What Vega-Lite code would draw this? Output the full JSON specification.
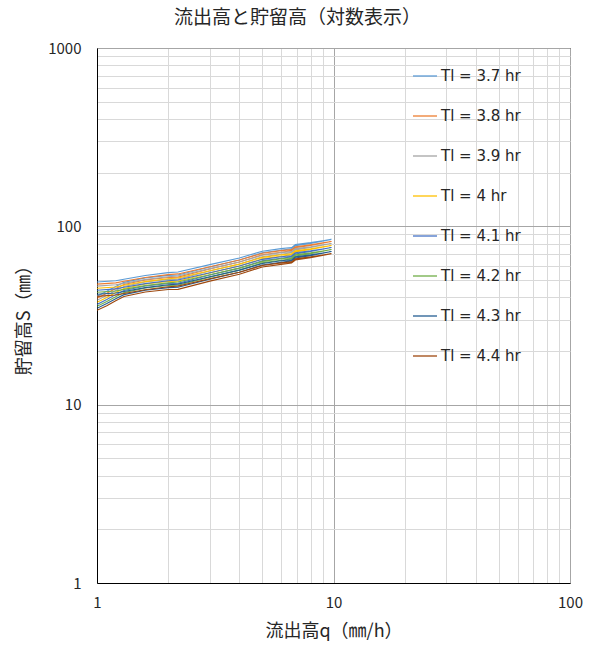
{
  "$schema": "https://vega.github.io/schema/vega-lite/v6.json",
  "width": 473,
  "height": 535,
  "autosize": {"type": "none"},
  "padding": {"left": 97, "top": 48, "right": 28, "bottom": 67},
  "background": "white",
  "config": {
    "view": {"stroke": "#000000", "strokeWidth": 1},
    "font": "Noto Sans CJK JP"
  },
  "title": {
    "text": "流出高と貯留高（対数表示）",
    "fontSize": 19,
    "fontWeight": "normal",
    "color": "#262626",
    "anchor": "middle",
    "dx": -36,
    "offset": 13,
    "font": "Noto Sans CJK JP"
  },
  "data": {
    "values": [
      {"t":"Tl = 3.7 hr","i":0,"q":1,"S":40.6},{"t":"Tl = 3.7 hr","i":1,"q":1.1,"S":43.2},{"t":"Tl = 3.7 hr","i":2,"q":1.2,"S":46.0},{"t":"Tl = 3.7 hr","i":3,"q":1.3,"S":48.5},{"t":"Tl = 3.7 hr","i":4,"q":1.6,"S":51.4},{"t":"Tl = 3.7 hr","i":5,"q":2,"S":53.1},{"t":"Tl = 3.7 hr","i":6,"q":2.2,"S":53.3},{"t":"Tl = 3.7 hr","i":7,"q":3,"S":59.2},{"t":"Tl = 3.7 hr","i":8,"q":4,"S":64.8},{"t":"Tl = 3.7 hr","i":9,"q":5,"S":71.1},{"t":"Tl = 3.7 hr","i":10,"q":6,"S":73.5},{"t":"Tl = 3.7 hr","i":11,"q":6.65,"S":74.9},{"t":"Tl = 3.7 hr","i":12,"q":6.9,"S":77.8},{"t":"Tl = 3.7 hr","i":13,"q":8,"S":80.2},{"t":"Tl = 3.7 hr","i":14,"q":9.8,"S":84.5},{"t":"Tl = 3.7 hr","i":15,"q":9,"S":83.0},{"t":"Tl = 3.7 hr","i":16,"q":8,"S":81.0},{"t":"Tl = 3.7 hr","i":17,"q":6.9,"S":79.0},{"t":"Tl = 3.7 hr","i":18,"q":6.65,"S":76.0},{"t":"Tl = 3.7 hr","i":19,"q":6,"S":75.0},{"t":"Tl = 3.7 hr","i":20,"q":5,"S":72.5},{"t":"Tl = 3.7 hr","i":21,"q":4,"S":66.5},{"t":"Tl = 3.7 hr","i":22,"q":3,"S":61.0},{"t":"Tl = 3.7 hr","i":23,"q":2.2,"S":55.5},{"t":"Tl = 3.7 hr","i":24,"q":2,"S":55.0},{"t":"Tl = 3.7 hr","i":25,"q":1.6,"S":53.0},{"t":"Tl = 3.7 hr","i":26,"q":1.3,"S":50.5},{"t":"Tl = 3.7 hr","i":27,"q":1.2,"S":49.5},{"t":"Tl = 3.7 hr","i":28,"q":1,"S":48.7},
      {"t":"Tl = 3.8 hr","i":0,"q":1,"S":39.5},{"t":"Tl = 3.8 hr","i":1,"q":1.1,"S":42.1},{"t":"Tl = 3.8 hr","i":2,"q":1.2,"S":44.8},{"t":"Tl = 3.8 hr","i":3,"q":1.3,"S":47.2},{"t":"Tl = 3.8 hr","i":4,"q":1.6,"S":50.1},{"t":"Tl = 3.8 hr","i":5,"q":2,"S":51.7},{"t":"Tl = 3.8 hr","i":6,"q":2.2,"S":51.9},{"t":"Tl = 3.8 hr","i":7,"q":3,"S":57.7},{"t":"Tl = 3.8 hr","i":8,"q":4,"S":63.1},{"t":"Tl = 3.8 hr","i":9,"q":5,"S":69.3},{"t":"Tl = 3.8 hr","i":10,"q":6,"S":71.6},{"t":"Tl = 3.8 hr","i":11,"q":6.65,"S":73.0},{"t":"Tl = 3.8 hr","i":12,"q":6.9,"S":75.8},{"t":"Tl = 3.8 hr","i":13,"q":8,"S":78.1},{"t":"Tl = 3.8 hr","i":14,"q":9.8,"S":82.3},{"t":"Tl = 3.8 hr","i":15,"q":9,"S":80.8},{"t":"Tl = 3.8 hr","i":16,"q":8,"S":78.9},{"t":"Tl = 3.8 hr","i":17,"q":6.9,"S":76.9},{"t":"Tl = 3.8 hr","i":18,"q":6.65,"S":74.0},{"t":"Tl = 3.8 hr","i":19,"q":6,"S":73.1},{"t":"Tl = 3.8 hr","i":20,"q":5,"S":70.6},{"t":"Tl = 3.8 hr","i":21,"q":4,"S":64.8},{"t":"Tl = 3.8 hr","i":22,"q":3,"S":59.4},{"t":"Tl = 3.8 hr","i":23,"q":2.2,"S":54.1},{"t":"Tl = 3.8 hr","i":24,"q":2,"S":53.6},{"t":"Tl = 3.8 hr","i":25,"q":1.6,"S":51.6},{"t":"Tl = 3.8 hr","i":26,"q":1.3,"S":49.2},{"t":"Tl = 3.8 hr","i":27,"q":1.2,"S":48.2},{"t":"Tl = 3.8 hr","i":28,"q":1,"S":47.4},
      {"t":"Tl = 3.9 hr","i":0,"q":1,"S":38.5},{"t":"Tl = 3.9 hr","i":1,"q":1.1,"S":41.0},{"t":"Tl = 3.9 hr","i":2,"q":1.2,"S":43.7},{"t":"Tl = 3.9 hr","i":3,"q":1.3,"S":46.0},{"t":"Tl = 3.9 hr","i":4,"q":1.6,"S":48.8},{"t":"Tl = 3.9 hr","i":5,"q":2,"S":50.4},{"t":"Tl = 3.9 hr","i":6,"q":2.2,"S":50.6},{"t":"Tl = 3.9 hr","i":7,"q":3,"S":56.2},{"t":"Tl = 3.9 hr","i":8,"q":4,"S":61.5},{"t":"Tl = 3.9 hr","i":9,"q":5,"S":67.5},{"t":"Tl = 3.9 hr","i":10,"q":6,"S":69.8},{"t":"Tl = 3.9 hr","i":11,"q":6.65,"S":71.1},{"t":"Tl = 3.9 hr","i":12,"q":6.9,"S":73.8},{"t":"Tl = 3.9 hr","i":13,"q":8,"S":76.1},{"t":"Tl = 3.9 hr","i":14,"q":9.8,"S":80.2},{"t":"Tl = 3.9 hr","i":15,"q":9,"S":78.8},{"t":"Tl = 3.9 hr","i":16,"q":8,"S":76.9},{"t":"Tl = 3.9 hr","i":17,"q":6.9,"S":75.0},{"t":"Tl = 3.9 hr","i":18,"q":6.65,"S":72.1},{"t":"Tl = 3.9 hr","i":19,"q":6,"S":71.2},{"t":"Tl = 3.9 hr","i":20,"q":5,"S":68.8},{"t":"Tl = 3.9 hr","i":21,"q":4,"S":63.1},{"t":"Tl = 3.9 hr","i":22,"q":3,"S":57.9},{"t":"Tl = 3.9 hr","i":23,"q":2.2,"S":52.7},{"t":"Tl = 3.9 hr","i":24,"q":2,"S":52.2},{"t":"Tl = 3.9 hr","i":25,"q":1.6,"S":50.3},{"t":"Tl = 3.9 hr","i":26,"q":1.3,"S":47.9},{"t":"Tl = 3.9 hr","i":27,"q":1.2,"S":47.0},{"t":"Tl = 3.9 hr","i":28,"q":1,"S":46.2},
      {"t":"Tl = 4 hr","i":0,"q":1,"S":37.5},{"t":"Tl = 4 hr","i":1,"q":1.1,"S":39.9},{"t":"Tl = 4 hr","i":2,"q":1.2,"S":42.5},{"t":"Tl = 4 hr","i":3,"q":1.3,"S":44.8},{"t":"Tl = 4 hr","i":4,"q":1.6,"S":47.5},{"t":"Tl = 4 hr","i":5,"q":2,"S":49.1},{"t":"Tl = 4 hr","i":6,"q":2.2,"S":49.2},{"t":"Tl = 4 hr","i":7,"q":3,"S":54.7},{"t":"Tl = 4 hr","i":8,"q":4,"S":59.9},{"t":"Tl = 4 hr","i":9,"q":5,"S":65.7},{"t":"Tl = 4 hr","i":10,"q":6,"S":67.9},{"t":"Tl = 4 hr","i":11,"q":6.65,"S":69.2},{"t":"Tl = 4 hr","i":12,"q":6.9,"S":71.9},{"t":"Tl = 4 hr","i":13,"q":8,"S":74.1},{"t":"Tl = 4 hr","i":14,"q":9.8,"S":78.1},{"t":"Tl = 4 hr","i":15,"q":9,"S":76.7},{"t":"Tl = 4 hr","i":16,"q":8,"S":74.8},{"t":"Tl = 4 hr","i":17,"q":6.9,"S":73.0},{"t":"Tl = 4 hr","i":18,"q":6.65,"S":70.2},{"t":"Tl = 4 hr","i":19,"q":6,"S":69.3},{"t":"Tl = 4 hr","i":20,"q":5,"S":67.0},{"t":"Tl = 4 hr","i":21,"q":4,"S":61.4},{"t":"Tl = 4 hr","i":22,"q":3,"S":56.4},{"t":"Tl = 4 hr","i":23,"q":2.2,"S":51.3},{"t":"Tl = 4 hr","i":24,"q":2,"S":50.8},{"t":"Tl = 4 hr","i":25,"q":1.6,"S":49.0},{"t":"Tl = 4 hr","i":26,"q":1.3,"S":46.7},{"t":"Tl = 4 hr","i":27,"q":1.2,"S":45.7},{"t":"Tl = 4 hr","i":28,"q":1,"S":45.0},
      {"t":"Tl = 4.1 hr","i":0,"q":1,"S":36.5},{"t":"Tl = 4.1 hr","i":1,"q":1.1,"S":38.9},{"t":"Tl = 4.1 hr","i":2,"q":1.2,"S":41.4},{"t":"Tl = 4.1 hr","i":3,"q":1.3,"S":43.7},{"t":"Tl = 4.1 hr","i":4,"q":1.6,"S":46.3},{"t":"Tl = 4.1 hr","i":5,"q":2,"S":47.8},{"t":"Tl = 4.1 hr","i":6,"q":2.2,"S":48.0},{"t":"Tl = 4.1 hr","i":7,"q":3,"S":53.3},{"t":"Tl = 4.1 hr","i":8,"q":4,"S":58.3},{"t":"Tl = 4.1 hr","i":9,"q":5,"S":64.0},{"t":"Tl = 4.1 hr","i":10,"q":6,"S":66.2},{"t":"Tl = 4.1 hr","i":11,"q":6.65,"S":67.4},{"t":"Tl = 4.1 hr","i":12,"q":6.9,"S":70.0},{"t":"Tl = 4.1 hr","i":13,"q":8,"S":72.2},{"t":"Tl = 4.1 hr","i":14,"q":9.8,"S":76.1},{"t":"Tl = 4.1 hr","i":15,"q":9,"S":74.7},{"t":"Tl = 4.1 hr","i":16,"q":8,"S":72.9},{"t":"Tl = 4.1 hr","i":17,"q":6.9,"S":71.1},{"t":"Tl = 4.1 hr","i":18,"q":6.65,"S":68.4},{"t":"Tl = 4.1 hr","i":19,"q":6,"S":67.5},{"t":"Tl = 4.1 hr","i":20,"q":5,"S":65.3},{"t":"Tl = 4.1 hr","i":21,"q":4,"S":59.9},{"t":"Tl = 4.1 hr","i":22,"q":3,"S":54.9},{"t":"Tl = 4.1 hr","i":23,"q":2.2,"S":50.0},{"t":"Tl = 4.1 hr","i":24,"q":2,"S":49.5},{"t":"Tl = 4.1 hr","i":25,"q":1.6,"S":47.7},{"t":"Tl = 4.1 hr","i":26,"q":1.3,"S":45.5},{"t":"Tl = 4.1 hr","i":27,"q":1.2,"S":44.6},{"t":"Tl = 4.1 hr","i":28,"q":1,"S":43.8},
      {"t":"Tl = 4.2 hr","i":0,"q":1,"S":35.6},{"t":"Tl = 4.2 hr","i":1,"q":1.1,"S":37.9},{"t":"Tl = 4.2 hr","i":2,"q":1.2,"S":40.3},{"t":"Tl = 4.2 hr","i":3,"q":1.3,"S":42.5},{"t":"Tl = 4.2 hr","i":4,"q":1.6,"S":45.1},{"t":"Tl = 4.2 hr","i":5,"q":2,"S":46.6},{"t":"Tl = 4.2 hr","i":6,"q":2.2,"S":46.7},{"t":"Tl = 4.2 hr","i":7,"q":3,"S":51.9},{"t":"Tl = 4.2 hr","i":8,"q":4,"S":56.8},{"t":"Tl = 4.2 hr","i":9,"q":5,"S":62.4},{"t":"Tl = 4.2 hr","i":10,"q":6,"S":64.5},{"t":"Tl = 4.2 hr","i":11,"q":6.65,"S":65.7},{"t":"Tl = 4.2 hr","i":12,"q":6.9,"S":68.2},{"t":"Tl = 4.2 hr","i":13,"q":8,"S":70.3},{"t":"Tl = 4.2 hr","i":14,"q":9.8,"S":74.1},{"t":"Tl = 4.2 hr","i":15,"q":9,"S":72.8},{"t":"Tl = 4.2 hr","i":16,"q":8,"S":71.0},{"t":"Tl = 4.2 hr","i":17,"q":6.9,"S":69.3},{"t":"Tl = 4.2 hr","i":18,"q":6.65,"S":66.7},{"t":"Tl = 4.2 hr","i":19,"q":6,"S":65.8},{"t":"Tl = 4.2 hr","i":20,"q":5,"S":63.6},{"t":"Tl = 4.2 hr","i":21,"q":4,"S":58.3},{"t":"Tl = 4.2 hr","i":22,"q":3,"S":53.5},{"t":"Tl = 4.2 hr","i":23,"q":2.2,"S":48.7},{"t":"Tl = 4.2 hr","i":24,"q":2,"S":48.2},{"t":"Tl = 4.2 hr","i":25,"q":1.6,"S":46.5},{"t":"Tl = 4.2 hr","i":26,"q":1.3,"S":44.3},{"t":"Tl = 4.2 hr","i":27,"q":1.2,"S":43.4},{"t":"Tl = 4.2 hr","i":28,"q":1,"S":42.7},
      {"t":"Tl = 4.3 hr","i":0,"q":1,"S":34.7},{"t":"Tl = 4.3 hr","i":1,"q":1.1,"S":36.9},{"t":"Tl = 4.3 hr","i":2,"q":1.2,"S":39.3},{"t":"Tl = 4.3 hr","i":3,"q":1.3,"S":41.4},{"t":"Tl = 4.3 hr","i":4,"q":1.6,"S":43.9},{"t":"Tl = 4.3 hr","i":5,"q":2,"S":45.3},{"t":"Tl = 4.3 hr","i":6,"q":2.2,"S":45.5},{"t":"Tl = 4.3 hr","i":7,"q":3,"S":50.6},{"t":"Tl = 4.3 hr","i":8,"q":4,"S":55.3},{"t":"Tl = 4.3 hr","i":9,"q":5,"S":60.7},{"t":"Tl = 4.3 hr","i":10,"q":6,"S":62.8},{"t":"Tl = 4.3 hr","i":11,"q":6.65,"S":64.0},{"t":"Tl = 4.3 hr","i":12,"q":6.9,"S":66.4},{"t":"Tl = 4.3 hr","i":13,"q":8,"S":68.5},{"t":"Tl = 4.3 hr","i":14,"q":9.8,"S":72.2},{"t":"Tl = 4.3 hr","i":15,"q":9,"S":70.9},{"t":"Tl = 4.3 hr","i":16,"q":8,"S":69.2},{"t":"Tl = 4.3 hr","i":17,"q":6.9,"S":67.5},{"t":"Tl = 4.3 hr","i":18,"q":6.65,"S":64.9},{"t":"Tl = 4.3 hr","i":19,"q":6,"S":64.1},{"t":"Tl = 4.3 hr","i":20,"q":5,"S":61.9},{"t":"Tl = 4.3 hr","i":21,"q":4,"S":56.8},{"t":"Tl = 4.3 hr","i":22,"q":3,"S":52.1},{"t":"Tl = 4.3 hr","i":23,"q":2.2,"S":47.4},{"t":"Tl = 4.3 hr","i":24,"q":2,"S":47.0},{"t":"Tl = 4.3 hr","i":25,"q":1.6,"S":45.3},{"t":"Tl = 4.3 hr","i":26,"q":1.3,"S":43.1},{"t":"Tl = 4.3 hr","i":27,"q":1.2,"S":42.3},{"t":"Tl = 4.3 hr","i":28,"q":1,"S":41.6},
      {"t":"Tl = 4.4 hr","i":0,"q":1,"S":33.8},{"t":"Tl = 4.4 hr","i":1,"q":1.1,"S":35.9},{"t":"Tl = 4.4 hr","i":2,"q":1.2,"S":38.3},{"t":"Tl = 4.4 hr","i":3,"q":1.3,"S":40.4},{"t":"Tl = 4.4 hr","i":4,"q":1.6,"S":42.8},{"t":"Tl = 4.4 hr","i":5,"q":2,"S":44.2},{"t":"Tl = 4.4 hr","i":6,"q":2.2,"S":44.3},{"t":"Tl = 4.4 hr","i":7,"q":3,"S":49.3},{"t":"Tl = 4.4 hr","i":8,"q":4,"S":53.9},{"t":"Tl = 4.4 hr","i":9,"q":5,"S":59.2},{"t":"Tl = 4.4 hr","i":10,"q":6,"S":61.2},{"t":"Tl = 4.4 hr","i":11,"q":6.65,"S":62.3},{"t":"Tl = 4.4 hr","i":12,"q":6.9,"S":64.7},{"t":"Tl = 4.4 hr","i":13,"q":8,"S":66.7},{"t":"Tl = 4.4 hr","i":14,"q":9.8,"S":70.3},{"t":"Tl = 4.4 hr","i":15,"q":9,"S":69.1},{"t":"Tl = 4.4 hr","i":16,"q":8,"S":67.4},{"t":"Tl = 4.4 hr","i":17,"q":6.9,"S":65.7},{"t":"Tl = 4.4 hr","i":18,"q":6.65,"S":63.2},{"t":"Tl = 4.4 hr","i":19,"q":6,"S":62.4},{"t":"Tl = 4.4 hr","i":20,"q":5,"S":60.3},{"t":"Tl = 4.4 hr","i":21,"q":4,"S":55.3},{"t":"Tl = 4.4 hr","i":22,"q":3,"S":50.8},{"t":"Tl = 4.4 hr","i":23,"q":2.2,"S":46.2},{"t":"Tl = 4.4 hr","i":24,"q":2,"S":45.8},{"t":"Tl = 4.4 hr","i":25,"q":1.6,"S":44.1},{"t":"Tl = 4.4 hr","i":26,"q":1.3,"S":42.0},{"t":"Tl = 4.4 hr","i":27,"q":1.2,"S":41.2},{"t":"Tl = 4.4 hr","i":28,"q":1,"S":40.5}
    ]
  },
  "mark": {"type": "line", "strokeWidth": 1.1, "clip": true},
  "encoding": {
    "x": {
      "field": "q",
      "type": "quantitative",
      "scale": {"type": "log", "domain": [1, 100], "nice": false},
      "axis": {
        "title": "流出高q（㎜/h）",
        "titleFontSize": 18,
        "titleFontWeight": "normal",
        "titleColor": "#262626",
        "titlePadding": 12,
        "values": [1,2,3,4,5,6,7,8,9,10,20,30,40,50,60,70,80,90,100],
        "labelExpr": "(datum.value == 1 || datum.value == 10 || datum.value == 100) ? datum.value : ''",
        "labelFontSize": 15,
        "labelColor": "#262626",
        "labelPadding": 12,
        "labelFlush": false,
        "labelOverlap": false,
        "ticks": false,
        "domainColor": "#000000",
        "gridColor": {"condition": {"test": "datum.value == 10 || datum.value == 100", "value": "#A6A6A6"}, "value": "#D9D9D9"},
        "gridWidth": 1
      }
    },
    "y": {
      "field": "S",
      "type": "quantitative",
      "scale": {"type": "log", "domain": [1, 1000], "nice": false},
      "axis": {
        "title": "貯留高S（㎜）",
        "titleFontSize": 18,
        "titleFontWeight": "normal",
        "titleColor": "#262626",
        "titlePadding": 14,
        "values": [1,2,3,4,5,6,7,8,9,10,20,30,40,50,60,70,80,90,100,200,300,400,500,600,700,800,900,1000],
        "labelExpr": "(datum.value == 1 || datum.value == 10 || datum.value == 100 || datum.value == 1000) ? datum.value : ''",
        "labelFontSize": 15,
        "labelColor": "#262626",
        "labelPadding": 16,
        "labelFlush": false,
        "labelOverlap": false,
        "ticks": false,
        "domainColor": "#000000",
        "gridColor": {"condition": {"test": "datum.value == 10 || datum.value == 100 || datum.value == 1000", "value": "#A6A6A6"}, "value": "#D9D9D9"},
        "gridWidth": 1
      }
    },
    "color": {
      "field": "t",
      "type": "nominal",
      "scale": {
        "domain": ["Tl = 3.7 hr","Tl = 3.8 hr","Tl = 3.9 hr","Tl = 4 hr","Tl = 4.1 hr","Tl = 4.2 hr","Tl = 4.3 hr","Tl = 4.4 hr"],
        "range": ["#5B9BD5","#ED7D31","#A5A5A5","#FFC000","#4472C4","#70AD47","#255E91","#9E480E"]
      },
      "legend": {
        "title": null,
        "orient": "none",
        "legendX": 315,
        "legendY": 15,
        "symbolType": "stroke",
        "symbolSize": 576,
        "symbolStrokeWidth": 1.3,
        "labelFontSize": 15,
        "labelColor": "#262626",
        "labelFont": "DejaVu Sans",
        "rowPadding": 19,
        "labelOffset": 3
      }
    },
    "order": {"field": "i", "type": "quantitative"}
  }
}
